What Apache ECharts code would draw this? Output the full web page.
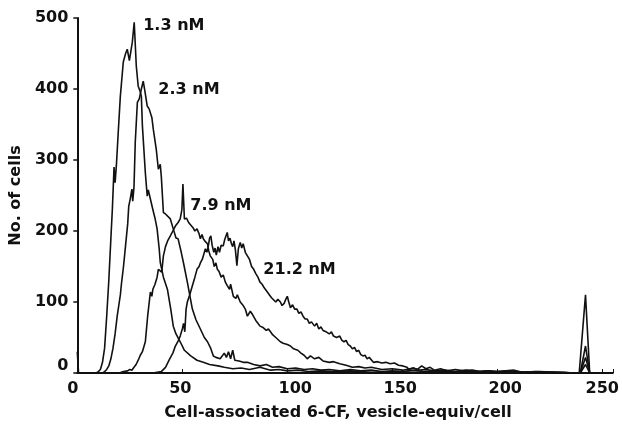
<!DOCTYPE html>
<html>
<head>
<meta charset="utf-8">
<script src="https://cdn.jsdelivr.net/npm/echarts@6/dist/echarts.min.js"></script>
<style>
  html, body { margin: 0; padding: 0; background: #fff; }
  #chart { width: 622px; height: 426px; }
</style>
</head>
<body>
<div id="chart"></div>
<script>
// histogram traces, [vesicle-equiv/cell, no. of cells]
const nM13 = [
  [0, 0], [9, 0], [10, 2], [11, 5], [12, 15], [13, 35], [14, 80], [15, 130], [16, 190], [16.7, 231],
  [17.5, 290], [18, 268], [18.6, 292], [19.5, 339], [20.5, 390], [21.9, 438], [23, 450], [23.8, 456],
  [24.8, 440], [26.2, 466], [27.1, 494], [28.1, 432], [29, 404], [30, 396], [30.5, 390], [31, 348],
  [32.4, 282], [33.3, 249], [33.8, 258], [34.8, 245], [36, 230], [37, 218], [38, 203], [39, 175],
  [39.5, 156], [41, 135], [42.9, 118], [44.5, 90], [45.7, 66], [47, 55], [49, 44], [51, 32], [54, 24],
  [57, 18], [60, 15], [63, 12], [67, 10], [70, 8], [74, 6], [78, 7], [82, 5], [87, 8], [92, 4], [96, 5],
  [100, 3], [105, 4], [110, 2], [116, 3], [122, 2], [130, 3], [140, 1], [150, 2], [160, 1], [175, 2],
  [190, 1], [205, 1], [220, 1], [236, 0], [239.5, 0], [242, 12], [244, 0], [255, 0]
];
const nM23 = [
  [0, 0], [12, 0], [13, 2], [14, 5], [15, 10], [16, 20], [17, 35], [18, 55], [19, 80], [20, 100],
  [20.5, 110], [21, 125], [22, 150], [23, 180], [24, 210], [24.5, 235], [25.2, 245], [26, 259],
  [26.4, 242], [27, 262], [27.6, 325], [28.6, 381], [29.5, 386], [30.5, 400], [31.4, 411], [32.3, 395],
  [33.3, 376], [34.2, 372], [34.8, 372], [35.5, 360], [36.2, 343], [37.6, 315], [38.6, 287], [39.5, 294],
  [40, 277], [41, 226], [42, 224], [42.9, 224], [44.3, 217], [45.7, 203], [47, 190], [48, 189],
  [49.5, 170], [50.5, 156], [52.4, 128], [54.8, 90], [56.5, 75], [58.6, 62], [60.5, 50], [62, 44],
  [63.5, 35], [64.8, 24], [66, 22], [68, 20], [70, 28], [71, 22], [72, 30], [73, 20], [74, 32], [75, 18],
  [77, 17], [79, 15], [81, 15], [84, 12], [87, 10], [90, 12], [93, 8], [96, 9], [100, 6], [104, 7],
  [108, 5], [112, 6], [116, 4], [120, 5], [125, 3], [130, 5], [135, 3], [140, 4], [145, 2], [150, 3],
  [155, 2], [160, 4], [165, 2], [170, 3], [178, 1], [185, 2], [195, 1], [205, 2], [215, 1], [225, 1],
  [235, 0], [239.5, 0], [242, 22], [244, 0], [255, 0]
];
const nM79 = [
  [0, 0], [20, 0], [22, 2], [24, 3], [25, 5], [26, 4], [27, 8], [28, 12], [29, 18], [30, 25], [31, 30],
  [31.5, 28], [32.4, 44], [33.5, 80], [34.8, 114], [35.5, 108], [36, 118], [37, 125], [38, 135],
  [38.6, 146], [39.5, 148], [40.2, 142], [41, 165], [42, 178], [43, 186], [44.3, 193], [45.5, 200],
  [46.7, 207], [48, 212], [49, 217], [49.8, 230], [50.3, 266], [51, 217], [52, 218], [53, 212],
  [53.8, 210], [55, 205], [56, 200], [57, 203], [58, 196], [58.6, 189], [59.4, 195], [60, 189], [61, 185],
  [62, 182], [62.6, 172], [63.3, 165], [64.5, 160], [65.2, 150], [66, 155], [66.7, 146], [67.5, 143],
  [68.5, 135], [69.5, 138], [70.5, 128], [71.4, 123], [72.5, 118], [73, 125], [74.3, 108], [75.5, 105],
  [76.2, 110], [77.6, 100], [79, 95], [80, 90], [81, 80], [82.4, 87], [83.5, 82], [85, 74], [86, 70],
  [87, 66], [88.5, 64], [90, 60], [91, 62], [92, 58], [93, 54], [94.5, 50], [96.7, 44], [98, 42],
  [100, 40], [101.5, 38], [103, 34], [105, 32], [106.5, 28], [108, 25], [109.5, 20], [111, 24], [113, 20],
  [115, 22], [117, 17], [120, 15], [122, 16], [125, 13], [128, 11], [131, 8], [134, 9], [137, 7],
  [140, 8], [145, 5], [150, 6], [155, 4], [160, 7], [163, 4], [166, 5], [170, 3], [175, 4], [180, 2],
  [185, 4], [190, 2], [195, 3], [200, 2], [208, 4], [212, 1], [220, 2], [230, 1], [236, 0], [239.5, 0],
  [242, 38], [244, 0], [255, 0]
];
const nM212 = [
  [0, 30], [0.6, 0], [36, 0], [38, 1], [40, 2], [42, 8], [44, 20], [45.5, 28], [46.7, 38], [48, 45],
  [49, 52], [50, 62], [50.6, 70], [51.2, 58], [51.8, 90], [52.4, 100], [53.5, 110], [54.8, 123], [56, 135],
  [57, 146], [58, 150], [58.6, 155], [59.5, 160], [60.3, 168], [61, 175], [61.7, 170], [62.4, 179],
  [63, 190], [63.6, 193], [64.2, 180], [65, 170], [65.6, 176], [66.2, 166], [67, 178], [67.7, 170],
  [68.5, 180], [69.5, 179], [70.2, 188], [71.4, 198], [72, 186], [72.7, 190], [73.4, 182], [74, 178],
  [74.6, 186], [75.3, 173], [76, 151], [76.7, 175], [77.6, 184], [78.3, 176], [79, 182], [80, 170],
  [81, 165], [82, 160], [83, 150], [84, 146], [85, 140], [86, 135], [87, 128], [88, 125], [89, 120],
  [90.5, 114], [91.5, 110], [92.5, 106], [93.3, 104], [94.5, 100], [95.5, 104], [96.7, 100], [97.5, 95],
  [98.5, 98], [99.3, 104], [100, 108], [100.7, 100], [101.5, 92], [102.5, 96], [103.5, 90], [104.6, 90],
  [105.5, 84], [106.5, 86], [107.5, 80], [108.5, 76], [109.5, 76], [110.5, 70], [111.5, 72], [113, 66],
  [114, 70], [115, 62], [116, 65], [117, 60], [118.5, 58], [120, 55], [121, 58], [122, 52], [123.5, 50],
  [125, 52], [126, 46], [127, 44], [128, 46], [129, 40], [130, 38], [131, 34], [132, 36], [133, 30],
  [134, 32], [135, 26], [136, 24], [137, 25], [138, 20], [139, 22], [141, 15], [143, 16], [145, 14],
  [147, 15], [149, 13], [151, 14], [153, 11], [155, 10], [157, 8], [158, 5], [160, 7], [162, 5],
  [164, 10], [166, 6], [168, 8], [170, 4], [173, 6], [176, 3], [180, 5], [184, 3], [188, 4], [192, 2],
  [196, 3], [200, 2], [206, 3], [212, 1], [218, 2], [225, 1], [232, 1], [236, 0], [239, 0], [242, 110],
  [244, 0], [255, 0]
];

// curve names and where their labels sit (data coords)
const seriesNames = ["1.3 nM", "2.3 nM", "7.9 nM", "21.2 nM"];
const labelAt = [[31.4, 489], [38.6, 399], [53.8, 236], [88.6, 145]];

const xTicks = [0, 50, 100, 150, 200, 250];
const yTicks = [0, 100, 200, 300, 400, 500];

const font = "DejaVu Sans";
const ink = "#111";
const tickFont = { fontFamily: font, fontWeight: "bold", fontSize: 16, color: ink };

const chart = echarts.init(document.getElementById("chart"));

const makeSeries = (data, i) => ({
  name: seriesNames[i],
  type: "line",
  data: data,
  showSymbol: false,
  symbol: "none",
  lineStyle: { color: ink, width: 1.6 },
  z: 3,
  markPoint: {
    symbol: "circle",
    symbolSize: 0,
    data: [{ coord: labelAt[i], value: seriesNames[i] }],
    label: {
      show: true,
      position: "right",
      distance: 0,
      formatter: seriesNames[i],
      color: ink,
      fontFamily: font,
      fontWeight: "bold",
      fontSize: 16
    }
  }
});

// x labels in the original are set a bit off their ticks
const xLabel = (v) => {
  if (!xTicks.includes(v)) return "";
  if (v === 0) return "{l|0}";
  if (v === 250) return String(v);
  if (v === 50) return "{m|50}";
  return "{r|" + v + "}";
};

const option = {
  animation: false,
  backgroundColor: "#fff",
  grid: { left: 77, right: 9, top: 18, bottom: 52 },
  xAxis: {
    type: "value",
    min: 0,
    max: 255,
    interval: 50,
    name: "Cell-associated 6-CF, vesicle-equiv/cell",
    nameLocation: "middle",
    nameGap: 32,
    nameTextStyle: {
      color: ink, fontFamily: font, fontWeight: "bold", fontSize: 16,
      padding: [0, 14, 0, 0]
    },
    axisLine: { lineStyle: { color: ink, width: 2 } },
    axisTick: { inside: true, length: 4, lineStyle: { color: ink, width: 1 } },
    axisLabel: {
      ...tickFont, margin: 8,
      formatter: xLabel,
      rich: {
        l: { ...tickFont, padding: [0, 9, 0, 0] },
        m: { ...tickFont, padding: [0, 4, 0, 0] },
        r: { ...tickFont, padding: [0, 0, 0, 16] }
      }
    },
    splitLine: { show: false }
  },
  yAxis: {
    type: "value",
    min: 0,
    max: 500,
    interval: 100,
    name: "No. of cells",
    nameLocation: "middle",
    nameGap: 51,
    nameTextStyle: { color: ink, fontFamily: font, fontWeight: "bold", fontSize: 16 },
    axisLine: { show: true, lineStyle: { color: ink, width: 2 } },
    axisTick: { show: true, length: 4, lineStyle: { color: ink, width: 1.5 } },
    axisLabel: {
      ...tickFont, margin: 9,
      // the 0 label sits a little higher than its tick in the original
      formatter: (v) => (v === 0 ? "{z|0}" : yTicks.includes(v) ? String(v) : ""),
      rich: { z: { ...tickFont, padding: [0, 0, 14, 0] } }
    },
    splitLine: { show: false }
  },
  series: [nM13, nM23, nM79, nM212].map(makeSeries)
};

chart.setOption(option);
</script>
</body>
</html>
